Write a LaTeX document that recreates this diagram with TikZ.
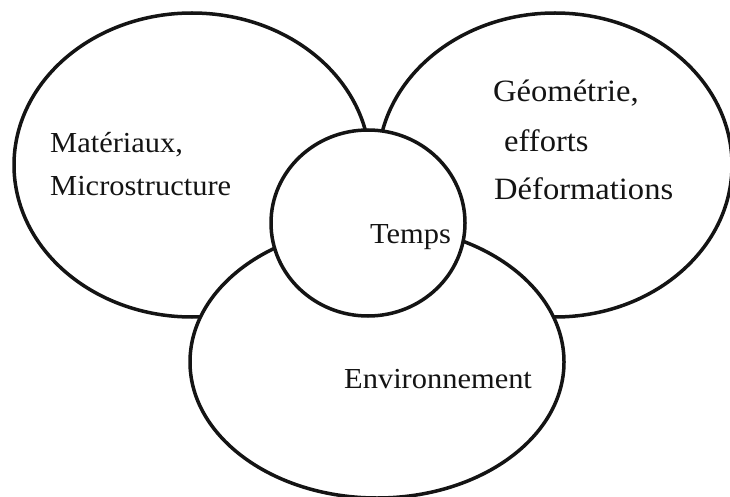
\documentclass[tikz,border=0pt]{standalone}
\usepackage{fontspec}
\setmainfont{Liberation Serif}[FakeStretch=1.05]
\usetikzlibrary{shapes.geometric}
\tikzset{
  blob/.style={ellipse, draw=black!92, line width=3.5pt, fill=white, inner sep=0pt},
  lbl/.style={anchor=base west, inner sep=0pt, text=black!92},
  small/.style={font=\fontsize{29}{32}\selectfont},
  big/.style={font=\fontsize{31}{34}\selectfont},
}
\begin{document}
\begin{tikzpicture}[x=1pt,y=-1pt]
\useasboundingbox (0,0) rectangle (730,497);
\node[blob, minimum width=356pt, minimum height=304pt] (mat) at (192,165) {};
\node[blob, minimum width=354pt, minimum height=304pt] (geo) at (555,165) {};
\node[blob, minimum width=374pt, minimum height=272pt] (env) at (377,362) {};
\node[blob, minimum width=194pt, minimum height=186pt] (tps) at (368,223) {};
\node[lbl, small] (t1) at (50,153) {Matériaux,};
\node[lbl, small] (t2) at (50,195) {Microstructure};
\node[lbl, big] (t3) at (493,102) {Géométrie,};
\node[lbl, big] (t4) at (504,152) {efforts};
\node[lbl, big] (t5) at (494,200) {Déformations};
\node[lbl, small] (t6) at (370,243) {Temps};
\node[lbl, small] (t7) at (344,388) {Environnement};
\end{tikzpicture}
\end{document}
